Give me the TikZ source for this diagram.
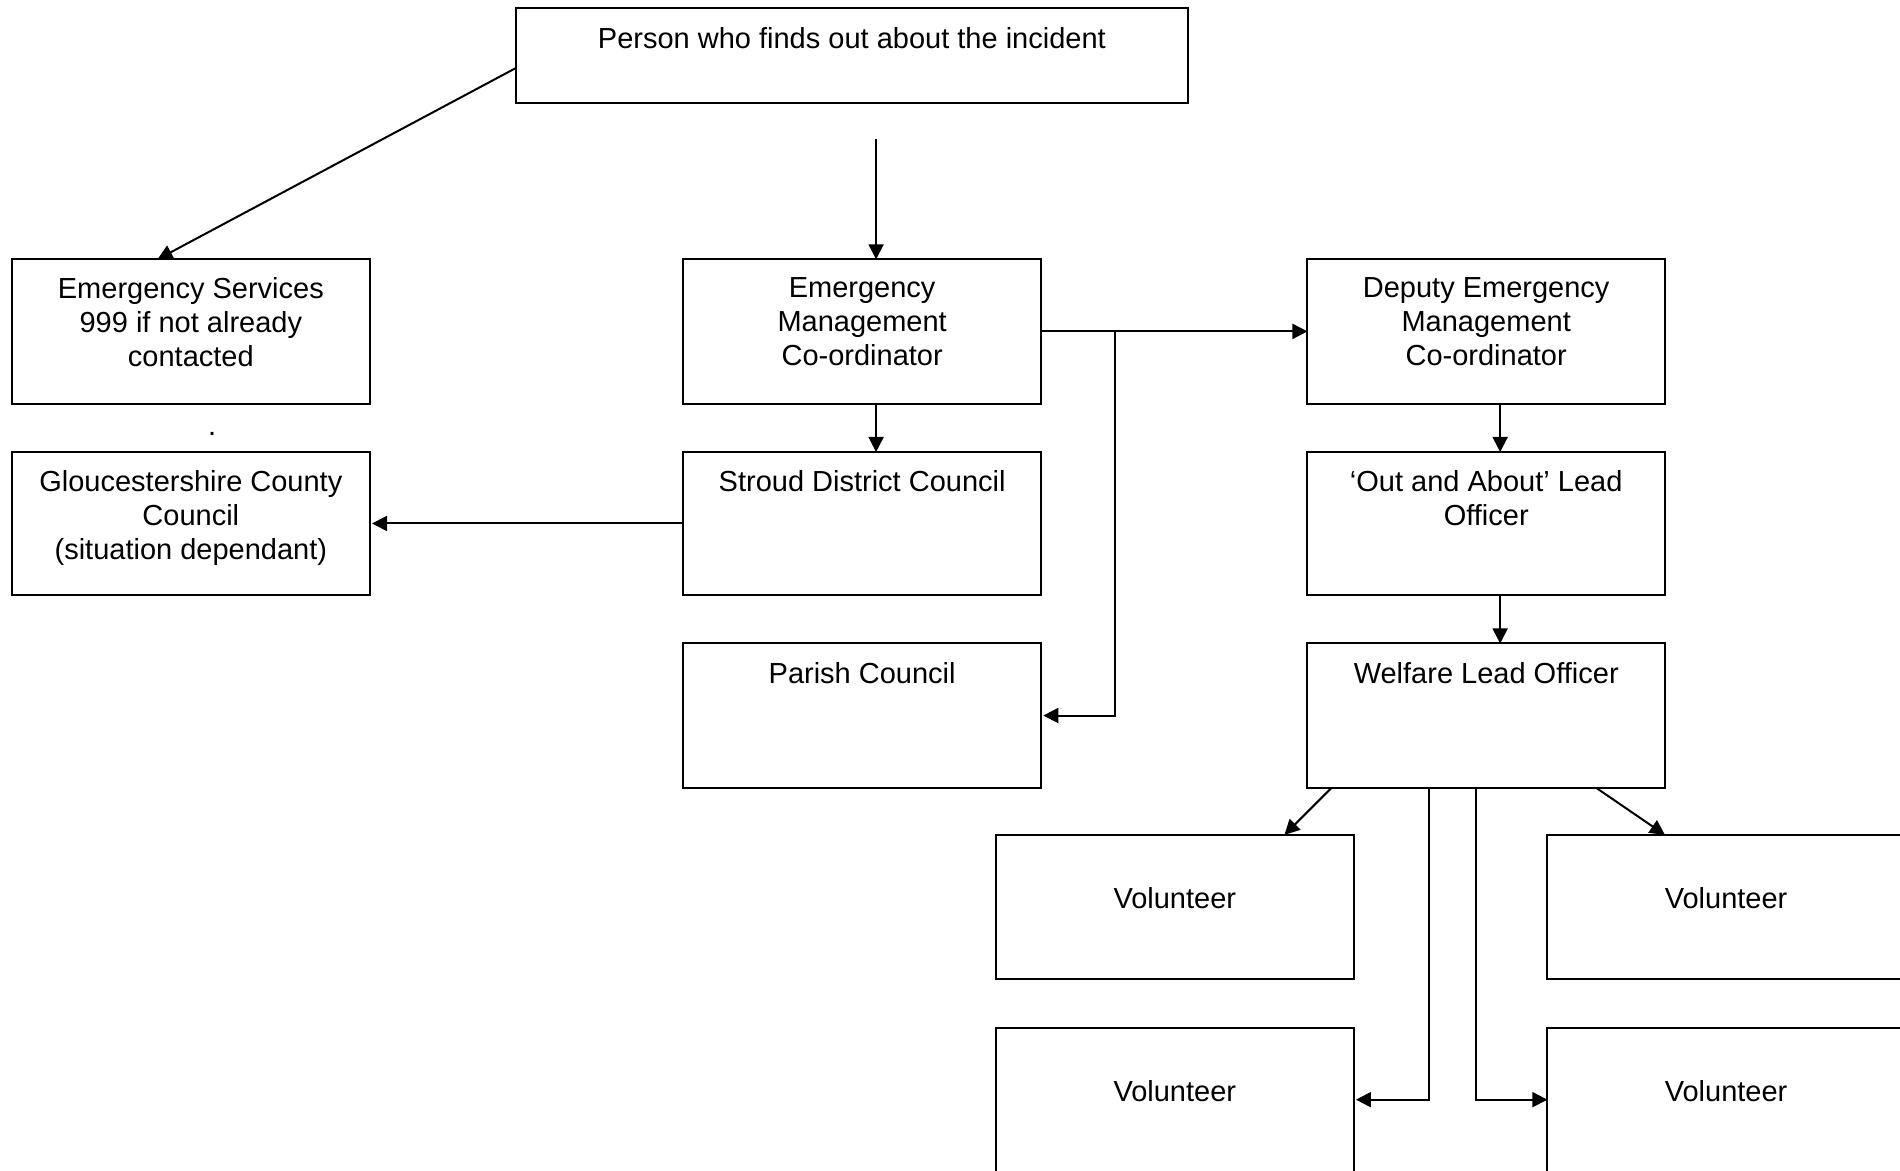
\documentclass[tikz,border=0pt]{standalone}
\usepackage{fontspec}
\setmainfont{Liberation Sans}
\usetikzlibrary{arrows.meta,calc,fit}
\begin{document}
\begin{tikzpicture}[x=0.6058pt,y=-0.6058pt,
  box/.style={draw,line width=1pt,inner sep=0pt,outer sep=0pt,rectangle},
  txt/.style={anchor=north,align=center,inner sep=0pt,font=\fontsize{14.5}{17}\selectfont},
  arr/.style={line width=1pt,-{Triangle[length=7.5pt,width=7.5pt]}}]
\useasboundingbox (0,0) rectangle (1568,966);
\clip (0,0) rectangle (1568,966);
% boxes
\node[box,fit={(426,7) (980,85)}] (top) {};
\node[box,fit={(10,214) (305,333)}] (es) {};
\node[box,fit={(10,373) (305,491)}] (glos) {};
\node[box,fit={(564,214) (859,333)}] (emc) {};
\node[box,fit={(564,373) (859,491)}] (stroud) {};
\node[box,fit={(564,531) (859,650)}] (parish) {};
\node[box,fit={(1079,214) (1374,333)}] (demc) {};
\node[box,fit={(1079,373) (1374,491)}] (ooa) {};
\node[box,fit={(1079,531) (1374,650)}] (wel) {};
\node[box,fit={(822,689) (1117,808)}] (v1) {};
\node[box,fit={(1277,689) (1572,808)}] (v2) {};
\node[box,fit={(822,848) (1117,967)}] (v3) {};
\node[box,fit={(1277,848) (1572,967)}] (v4) {};
% texts
\node[txt] (topT) at ($(top.north)+(0,15)$) {Person who finds out about the incident};
\node[txt] (esT) at ($(es.north)+(0,15)$) {Emergency Services\\999 if not already\\contacted};
\node[txt] (glosT) at ($(glos.north)+(0,15)$) {Gloucestershire County\\Council\\(situation dependant)};
\node[txt] (emcT) at ($(emc.north)+(0,15)$) {Emergency\\Management\\Co-ordinator};
\node[txt] (stroudT) at ($(stroud.north)+(0,15)$) {Stroud District Council};
\node[txt] (parishT) at ($(parish.north)+(0,15)$) {Parish Council};
\node[txt] (demcT) at ($(demc.north)+(0,15)$) {Deputy Emergency\\Management\\Co-ordinator};
\node[txt] (ooaT) at ($(ooa.north)+(0,15)$) {‘Out and About’ Lead\\Officer};
\node[txt] (welT) at ($(wel.north)+(0,15)$) {Welfare Lead Officer};
\node[txt] (v1T) at ($(v1.north)+(0,43)$) {Volunteer};
\node[txt] (v2T) at ($(v2.north)+(0,43)$) {Volunteer};
\node[txt] (v3T) at ($(v3.north)+(0,43)$) {Volunteer};
\node[txt] (v4T) at ($(v4.north)+(0,43)$) {Volunteer};
\node[txt,anchor=base] (dot) at (175,359) {.};
% connectors
\draw[arr] ($(top.west)+(0,10)$) -- ($(es.north west)+(120,0)$);
\draw[arr] ($(top.south)+(20,30)$) -- ($(emc.north)+(11.5,0)$);
\draw[arr] (emc.east) -- (demc.west);
\draw[arr] ($(emc.east)+(61,0)$) |- ($(parish.east)+(2,0)$);
\draw[arr] ($(emc.south)+(11.5,0)$) -- ($(stroud.north)+(11.5,0)$);
\draw[arr] (stroud.west) -- ($(glos.east)+(2,0)$);
\draw[arr] ($(demc.south)+(11.5,0)$) -- ($(ooa.north)+(11.5,0)$);
\draw[arr] ($(ooa.south)+(11.5,0)$) -- ($(wel.north)+(11.5,0)$);
\draw[arr] ($(wel.south west)+(20,0)$) -- ($(v1.north east)+(-57,0)$);
\draw[arr] ($(wel.south west)+(100,0)$) |- ($(v3.east)+(2,0)$);
\draw[arr] ($(wel.south west)+(139,0)$) |- (v4.west);
\draw[arr] ($(wel.south west)+(238,0)$) -- ($(v2.north west)+(97,0)$);
\end{tikzpicture}
\end{document}
